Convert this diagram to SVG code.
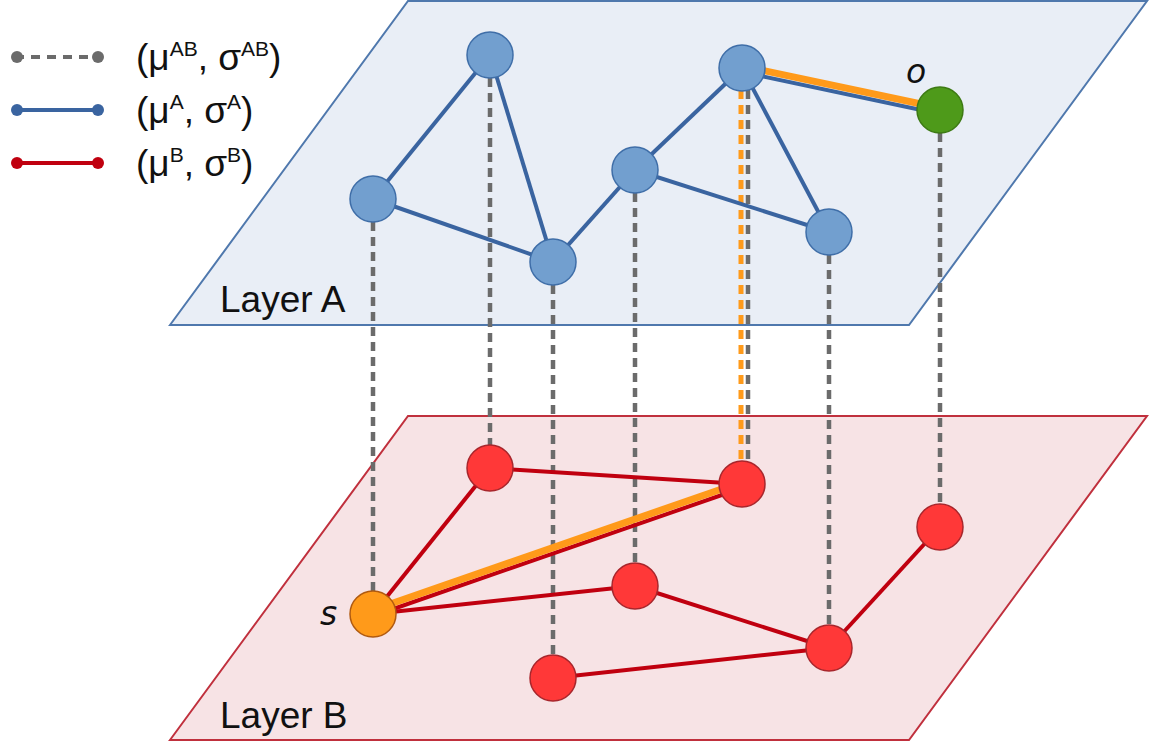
<svg xmlns="http://www.w3.org/2000/svg" width="1150" height="747" viewBox="0 0 1150 747">
<style>
.t{font-family:"Liberation Sans",Arial,sans-serif;fill:#111}
.leg{font-size:37px}
.sup{font-size:21px}
.lay{font-size:37px}
.it{font-family:"DejaVu Sans","Liberation Sans",sans-serif;font-style:italic;font-size:33px;fill:#111}
.na{fill:#729fcf;stroke:#3f6ea8;stroke-width:1.5}
.nb{fill:#ff3838;stroke:#a8262c;stroke-width:1.5}
.ea{stroke:#3a64a0;stroke-width:4;fill:none}
.eb{stroke:#c0000f;stroke-width:4;fill:none}
.eo{stroke:#ff9a1a;stroke-width:7;fill:none}
.dv{stroke:#6b6b6b;stroke-width:4.5;stroke-dasharray:9 6;fill:none}
.dvo{stroke:#ff9a1a;stroke-width:5;stroke-dasharray:9 6;fill:none}
</style>
<rect width="1150" height="747" fill="#fff"/>
<g id="layerA">
<polygon points="170,325 408,1 1147,1 909,325" fill="#e9eef6" stroke="#4f78ad" stroke-width="2"/>
<text class="t lay" x="220" y="312">Layer A</text>
</g>
<g id="layerB">
<polygon points="170,740 408,416 1147,416 909,740" fill="#f7e3e5" stroke="#c0303d" stroke-width="2"/>
<text class="t lay" x="220" y="728">Layer B</text>
</g>
<g id="legend">
<line x1="15" y1="57" x2="98" y2="57" stroke="#6b6b6b" stroke-width="4" stroke-dasharray="9 7"/>
<circle cx="17" cy="57" r="6" fill="#6b6b6b"/><circle cx="98" cy="57" r="6" fill="#6b6b6b"/>
<line x1="15" y1="110" x2="98" y2="110" stroke="#3a64a0" stroke-width="4"/>
<circle cx="17" cy="110" r="6" fill="#3a64a0"/><circle cx="98" cy="110" r="6" fill="#3a64a0"/>
<line x1="15" y1="163" x2="98" y2="163" stroke="#c0000f" stroke-width="4"/>
<circle cx="17" cy="163" r="6" fill="#c0000f"/><circle cx="98" cy="163" r="6" fill="#c0000f"/>
<text class="t leg" x="136" y="70">(μ<tspan class="sup" dy="-14">AB</tspan><tspan dy="14">, σ</tspan><tspan class="sup" dy="-14">AB</tspan><tspan dy="14">)</tspan></text>
<text class="t leg" x="136" y="123">(μ<tspan class="sup" dy="-14">A</tspan><tspan dy="14">, σ</tspan><tspan class="sup" dy="-14">A</tspan><tspan dy="14">)</tspan></text>
<text class="t leg" x="136" y="176">(μ<tspan class="sup" dy="-14">B</tspan><tspan dy="14">, σ</tspan><tspan class="sup" dy="-14">B</tspan><tspan dy="14">)</tspan></text>
</g>
<g id="connectors">
<line class="dv" x1="373" y1="222" x2="373" y2="592"/>
<line class="dv" x1="490" y1="78" x2="490" y2="446"/>
<line class="dv" x1="553" y1="285" x2="553" y2="656"/>
<line class="dv" x1="635" y1="193" x2="635" y2="564"/>
<line class="dv" x1="748" y1="90" x2="748" y2="462"/>
<line class="dvo" x1="741" y1="90" x2="741" y2="462"/>
<line class="dv" x1="829" y1="255" x2="829" y2="626"/>
<line class="dv" x1="940" y1="133" x2="940" y2="505"/>
<line class="ea" x1="490" y1="55" x2="373" y2="199"/>
<line class="ea" x1="490" y1="55" x2="553" y2="262"/>
<line class="ea" x1="373" y1="199" x2="553" y2="262"/>
<line class="ea" x1="553" y1="262" x2="635" y2="170"/>
<line class="ea" x1="635" y1="170" x2="742" y2="68"/>
<line class="ea" x1="635" y1="170" x2="829" y2="232"/>
<line class="ea" x1="742" y1="68" x2="829" y2="232"/>
<line class="ea" x1="742" y1="72" x2="940" y2="114"/>
<line class="eo" x1="742" y1="66" x2="940" y2="108"/>
<line class="eb" x1="490" y1="468" x2="742" y2="484"/>
<line class="eb" x1="490" y1="468" x2="373" y2="614"/>
<line class="eb" x1="373" y1="616" x2="742" y2="488"/>
<line class="eo" x1="373" y1="610" x2="742" y2="482"/>
<line class="eb" x1="373" y1="614" x2="635" y2="586"/>
<line class="eb" x1="635" y1="586" x2="829" y2="648"/>
<line class="eb" x1="553" y1="678" x2="829" y2="648"/>
<line class="eb" x1="829" y1="648" x2="940" y2="527"/>
</g>
<g id="nA1"><circle class="na" cx="490" cy="55" r="23"/></g>
<g id="nA2"><circle class="na" cx="373" cy="199" r="23"/></g>
<g id="nA3"><circle class="na" cx="553" cy="262" r="23"/></g>
<g id="nA4"><circle class="na" cx="635" cy="170" r="23"/></g>
<g id="nA5"><circle class="na" cx="742" cy="68" r="23"/></g>
<g id="nA6"><circle class="na" cx="829" cy="232" r="23"/></g>
<g id="nO"><circle cx="940" cy="110" r="23" fill="#4e9a1a" stroke="#3d7a14" stroke-width="1.5"/><text class="it" x="906" y="83">o</text></g>
<g id="nB1"><circle class="nb" cx="490" cy="468" r="23"/></g>
<g id="nB2"><circle class="nb" cx="742" cy="484" r="23"/></g>
<g id="nS"><circle cx="373" cy="614" r="23" fill="#ff9a1a" stroke="#b05a10" stroke-width="1.5"/><text class="it" x="320" y="625">s</text></g>
<g id="nB3"><circle class="nb" cx="635" cy="586" r="23"/></g>
<g id="nB4"><circle class="nb" cx="553" cy="678" r="23"/></g>
<g id="nB5"><circle class="nb" cx="829" cy="648" r="23"/></g>
<g id="nB6"><circle class="nb" cx="940" cy="527" r="23"/></g>
</svg>
